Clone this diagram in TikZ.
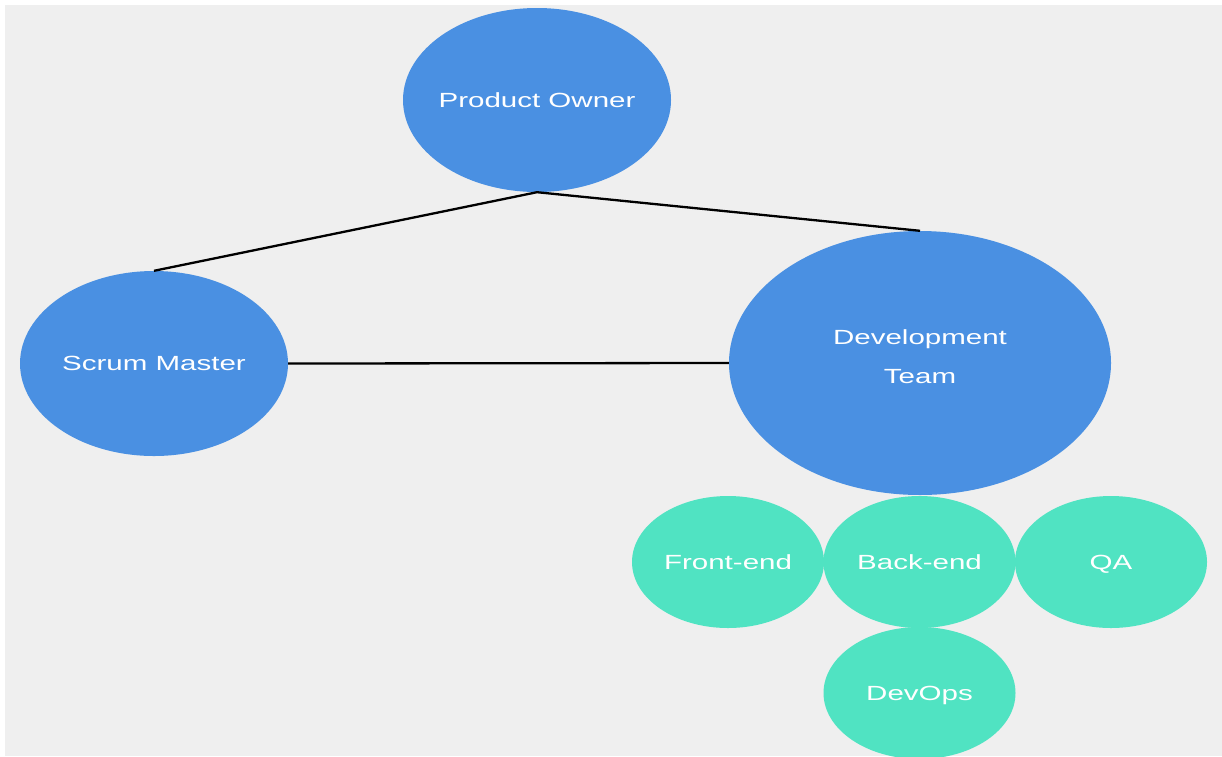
\documentclass[tikz,border=0pt]{standalone}
\usepackage{fontspec}
\usetikzlibrary{shapes.geometric}
\newfontfamily\lblfont[FakeStretch=1.44]{Liberation Sans}
\definecolor{bgray}{HTML}{EFEFEF}
\definecolor{roleblue}{HTML}{4A90E2}
\definecolor{teamteal}{HTML}{50E3C2}
\tikzset{
  role/.style={ellipse, fill=roleblue, draw=none, inner sep=0pt, text=white,
    font=\lblfont\fontsize{20.5}{39}\selectfont, text depth=0pt},
  member/.style={ellipse, fill=teamteal, draw=none, inner sep=0pt, text=white,
    font=\lblfont\fontsize{20.5}{39}\selectfont, text depth=0pt,
    minimum width=192pt, minimum height=132pt},
  link/.style={draw=black, line width=2.3pt}
}
\begin{document}
\begin{tikzpicture}[x=1pt,y=-1pt]
\fill[white] (0,0) rectangle (1222,756);
\fill[bgray] (5,5) rectangle (1222,756);
\useasboundingbox (0,0) rectangle (1222,756);
\node[role, minimum width=268pt, minimum height=184pt] (po) at (537,100) {\makebox[0pt]{Product Owner}};
\node[role, minimum width=268pt, minimum height=185pt] (sm) at (154,363.5) {\makebox[0pt]{Scrum Master}};
\node[role, minimum width=382pt, minimum height=264pt, text height=0pt] (dt) at (920,363) {\raisebox{1.5pt}{\makebox[0pt]{\begin{tabular}{@{}c@{}}Development\\Team\end{tabular}}}};
\node[member] (fe) at (728,562) {\makebox[0pt]{Front-end}};
\node[member] (be) at (919.5,562) {\makebox[0pt]{Back-end}};
\node[member] (qa) at (1111,562) {\makebox[0pt]{QA}};
\node[member] (do) at (919.5,693) {\makebox[0pt]{DevOps}};
\draw[link] (sm.north) -- (po.south) -- (dt.north);
\draw[link] (sm.east) -- (dt.west);
\end{tikzpicture}
\end{document}
